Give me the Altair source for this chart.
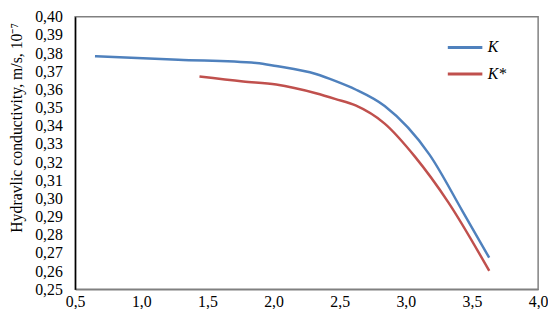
import altair as alt
import pandas as pd

k_x = [0.65, 1.28, 1.87, 2.02, 2.32, 2.47, 2.62, 2.84, 3.18, 3.43, 3.63]
k_y = [0.3783, 0.3764, 0.3746, 0.3729, 0.3685, 0.3646, 0.3600, 0.3509, 0.3240, 0.2928, 0.2674]
ks_x = [1.44, 1.77, 2.02, 2.32, 2.47, 2.62, 2.84, 3.07, 3.32, 3.63]
ks_y = [0.3671, 0.3644, 0.3627, 0.3579, 0.3547, 0.3512, 0.3412, 0.3229, 0.2980, 0.2602]
series_names = ["K", "K*"]
colors = ["#4F81BD", "#C0504D"]
x_ticks = [0.5, 1.0, 1.5, 2.0, 2.5, 3.0, 3.5, 4.0]
y_ticks = [round(0.25 + 0.01 * i, 2) for i in range(16)]

df = pd.concat([
    pd.DataFrame({"x": k_x, "y": k_y, "s": series_names[0], "o": range(len(k_x))}),
    pd.DataFrame({"x": ks_x, "y": ks_y, "s": series_names[1], "o": range(len(ks_x))}),
])

FONT = "Liberation Serif"

chart = alt.Chart(df).mark_line(strokeWidth=2.5, interpolate="monotone").encode(
    x=alt.X("x:Q", scale=alt.Scale(domain=[0.5, 4.0], nice=False),
            axis=alt.Axis(values=x_ticks, title=None, grid=False, ticks=False,
                          labelFlush=False,
                          labelExpr="replace(format(datum.value, '.1f'), '.', ',')",
                          labelFont=FONT, labelFontSize=16, labelColor="#000",
                          labelPadding=4, domainColor="#808080", domainWidth=1.5)),
    y=alt.Y("y:Q", scale=alt.Scale(domain=[0.25, 0.40], nice=False, zero=False),
            axis=alt.Axis(values=y_ticks, grid=False, ticks=False,
                          title="Hydravlic conductivity, m/s, 10⁻⁷",
                          titleFont=FONT, titleFontSize=16, titleFontWeight="normal",
                          titleColor="#000", titleX=-59, titleY=112, titleAngle=-90,
                          titleAlign="center", titleBaseline="middle",
                          labelFlush=False,
                          labelExpr="replace(format(datum.value, '.2f'), '.', ',')",
                          labelFont=FONT, labelFontSize=16, labelColor="#000",
                          labelPadding=13, labelOverlap=False,
                          domainColor="#000", domainWidth=1.5)),
    color=alt.Color("s:N", scale=alt.Scale(domain=series_names, range=colors),
                    legend=alt.Legend(title=None, orient="none", legendX=376, legendY=12,
                                      symbolType="stroke", symbolSize=1225,
                                      symbolStrokeWidth=3, rowPadding=-7,
                                      labelFont=FONT, labelFontSize=16,
                                      labelFontStyle="italic", labelColor="#000",
                                      labelOffset=4)),
    order="o:Q",
).properties(
    width=469, height=276,
    autosize=alt.AutoSizeParams(type="none"),
    padding={"left": 68, "top": 7, "right": 10, "bottom": 18},
).configure_view(stroke="#808080", strokeWidth=1.5)

chart.save("out.html", embed_options={"renderer": "svg", "actions": False})
